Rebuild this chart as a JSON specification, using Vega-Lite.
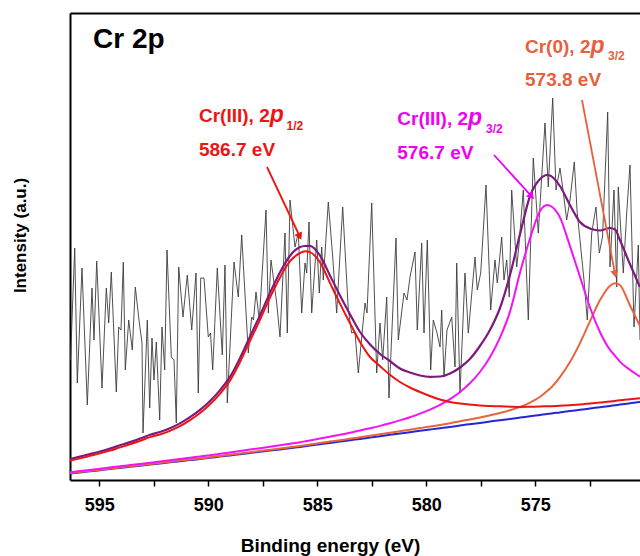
{
"$schema": "https://vega.github.io/schema/vega-lite/v6.json",
"width": 570, "height": 467,
"autosize": {"type": "none"},
"padding": {"left": 70, "top": 13, "right": 0, "bottom": 76},
"background": "white",
"config": {"view": {"stroke": null}, "font": "Liberation Sans",
  "axisY": {"title": "Intensity (a.u.)", "labels": false, "ticks": false, "grid": false, "domainColor": "black", "domainWidth": 2,
            "titleFontSize": 17, "titleFontWeight": "bold", "titleColor": "black", "titleX": -50, "titleY": 222, "titleAngle": 270, "titleBaseline": "middle", "titleAlign": "center"}},
"datasets": {
"spectrum": [
{"E":596.321,"V":120},{"E":596.128,"V":232},{"E":596.009,"V":97},{"E":595.794,"V":212},{"E":595.550,"V":75},{"E":595.335,"V":192},{"E":595.243,"V":140},{"E":595.119,"V":219},{"E":594.876,"V":92},{"E":594.679,"V":192},{"E":594.569,"V":157},{"E":594.449,"V":208},{"E":594.220,"V":88},{"E":594.110,"V":153},{"E":594.004,"V":150},{"E":593.899,"V":218},{"E":593.807,"V":110},{"E":593.651,"V":160},{"E":593.486,"V":130},{"E":593.348,"V":193},{"E":593.179,"V":160},{"E":593.041,"V":137},{"E":592.995,"V":47},{"E":592.798,"V":160},{"E":592.688,"V":72},{"E":592.583,"V":142},{"E":592.491,"V":100},{"E":592.385,"V":138},{"E":592.229,"V":60},{"E":592.124,"V":153},{"E":592.000,"V":110},{"E":591.894,"V":230},{"E":591.697,"V":123},{"E":591.573,"V":120},{"E":591.468,"V":57},{"E":591.358,"V":213},{"E":591.161,"V":163},{"E":590.963,"V":205},{"E":590.761,"V":150},{"E":590.564,"V":207},{"E":590.459,"V":87},{"E":590.348,"V":202},{"E":590.197,"V":202},{"E":590.000,"V":143},{"E":589.899,"V":147},{"E":589.798,"V":110},{"E":589.587,"V":212},{"E":589.358,"V":125},{"E":589.234,"V":215},{"E":589.128,"V":77},{"E":588.821,"V":218},{"E":588.624,"V":183},{"E":588.468,"V":245},{"E":588.165,"V":127},{"E":588.009,"V":163},{"E":587.927,"V":160},{"E":587.812,"V":188},{"E":587.660,"V":160},{"E":587.353,"V":270},{"E":587.247,"V":167},{"E":587.124,"V":220},{"E":586.862,"V":177},{"E":586.711,"V":143},{"E":586.482,"V":247},{"E":586.376,"V":147},{"E":586.252,"V":280},{"E":586.023,"V":233},{"E":585.871,"V":247},{"E":585.715,"V":167},{"E":585.564,"V":217},{"E":585.486,"V":207},{"E":585.381,"V":258},{"E":585.257,"V":167},{"E":585.027,"V":240},{"E":584.908,"V":187},{"E":584.798,"V":233},{"E":584.725,"V":200},{"E":584.495,"V":278},{"E":584.300,"V":225},{"E":584.110,"V":167},{"E":583.835,"V":273},{"E":583.578,"V":170},{"E":583.422,"V":147},{"E":583.271,"V":148},{"E":583.119,"V":107},{"E":582.812,"V":177},{"E":582.720,"V":167},{"E":582.504,"V":277},{"E":582.275,"V":107},{"E":582.124,"V":157},{"E":582.000,"V":120},{"E":581.816,"V":183},{"E":581.711,"V":82},{"E":581.390,"V":242},{"E":581.284,"V":140},{"E":581.023,"V":187},{"E":580.885,"V":180},{"E":580.748,"V":203},{"E":580.518,"V":228},{"E":580.413,"V":150},{"E":580.211,"V":237},{"E":580.105,"V":147},{"E":579.954,"V":240},{"E":579.798,"V":110},{"E":579.679,"V":160},{"E":579.509,"V":147},{"E":579.371,"V":133},{"E":579.293,"V":170},{"E":579.188,"V":103},{"E":579.050,"V":150},{"E":578.834,"V":163},{"E":578.683,"V":113},{"E":578.605,"V":217},{"E":578.454,"V":87},{"E":578.225,"V":207},{"E":578.073,"V":147},{"E":577.766,"V":223},{"E":577.660,"V":190},{"E":577.504,"V":207},{"E":577.261,"V":295},{"E":577.046,"V":170},{"E":576.849,"V":220},{"E":576.743,"V":197},{"E":576.541,"V":243},{"E":576.436,"V":200},{"E":576.312,"V":220},{"E":576.193,"V":183},{"E":576.083,"V":290},{"E":575.853,"V":213},{"E":575.748,"V":235},{"E":575.550,"V":290},{"E":575.321,"V":160},{"E":575.092,"V":322},{"E":574.862,"V":247},{"E":574.555,"V":357},{"E":574.404,"V":293},{"E":574.202,"V":382},{"E":574.050,"V":290},{"E":573.867,"V":312},{"E":573.729,"V":290},{"E":573.560,"V":260},{"E":573.408,"V":280},{"E":573.211,"V":318},{"E":573.080,"V":268},{"E":572.949,"V":240},{"E":572.766,"V":200},{"E":572.615,"V":160},{"E":572.413,"V":247},{"E":572.216,"V":273},{"E":572.064,"V":227},{"E":571.917,"V":243},{"E":571.679,"V":368},{"E":571.573,"V":213},{"E":571.390,"V":290},{"E":571.266,"V":193},{"E":571.193,"V":293},{"E":570.963,"V":207},{"E":570.807,"V":267},{"E":570.656,"V":315},{"E":570.472,"V":153},{"E":570.275,"V":235},{"E":570.197,"V":140}
],
"fit": [
{"E":596.34,"bg":6.5,"r":19.3,"m":7.8,"o":6.9,"env":21.0},
{"E":595.89,"bg":7.6,"r":21.6,"m":9.0,"o":8.0,"env":23.4},
{"E":595.43,"bg":8.7,"r":24.1,"m":10.1,"o":9.1,"env":25.9},
{"E":594.97,"bg":9.8,"r":26.6,"m":11.3,"o":10.2,"env":28.5},
{"E":594.51,"bg":11.0,"r":29.4,"m":12.6,"o":11.4,"env":31.4},
{"E":594.05,"bg":12.1,"r":32.6,"m":13.7,"o":12.5,"env":34.7},
{"E":593.59,"bg":13.2,"r":35.7,"m":14.9,"o":13.7,"env":37.9},
{"E":593.13,"bg":14.3,"r":39.1,"m":16.1,"o":14.8,"env":41.4},
{"E":592.67,"bg":15.4,"r":42.9,"m":17.3,"o":15.9,"env":45.3},
{"E":592.22,"bg":16.5,"r":45.5,"m":18.5,"o":17.0,"env":48.0},
{"E":591.76,"bg":17.7,"r":49.2,"m":19.8,"o":18.2,"env":51.8},
{"E":591.30,"bg":18.8,"r":53.8,"m":21.0,"o":19.4,"env":56.6},
{"E":590.84,"bg":19.9,"r":59.9,"m":22.2,"o":20.5,"env":62.8},
{"E":590.38,"bg":21.0,"r":67.0,"m":23.5,"o":21.6,"env":70.1},
{"E":589.92,"bg":22.2,"r":75.7,"m":24.8,"o":22.8,"env":79.0},
{"E":589.46,"bg":23.4,"r":86.4,"m":26.2,"o":24.1,"env":89.9},
{"E":589.00,"bg":24.6,"r":99.6,"m":27.6,"o":25.3,"env":103.3},
{"E":588.55,"bg":25.8,"r":117.8,"m":29.0,"o":26.6,"env":121.7},
{"E":588.09,"bg":27.0,"r":139.0,"m":30.4,"o":27.8,"env":143.2},
{"E":587.63,"bg":28.2,"r":160.2,"m":31.8,"o":29.0,"env":164.6},
{"E":587.17,"bg":29.4,"r":182.4,"m":33.3,"o":30.3,"env":187.1},
{"E":586.71,"bg":30.6,"r":202.6,"m":34.8,"o":31.5,"env":207.7},
{"E":586.25,"bg":31.8,"r":218.8,"m":36.3,"o":32.8,"env":224.3},
{"E":585.79,"bg":33.0,"r":227.0,"m":37.8,"o":34.1,"env":232.9},
{"E":585.56,"bg":33.7,"r":228.7,"m":38.7,"o":34.8,"env":234.0},
{"E":585.34,"bg":34.4,"r":227.9,"m":39.6,"o":35.5,"env":234.2},
{"E":584.88,"bg":35.7,"r":217.7,"m":41.4,"o":36.9,"env":224.6},
{"E":584.42,"bg":37.1,"r":197.1,"m":43.3,"o":38.4,"env":204.6},
{"E":583.96,"bg":38.4,"r":176.4,"m":45.2,"o":39.8,"env":184.6},
{"E":583.50,"bg":39.8,"r":156.8,"m":47.3,"o":41.2,"env":165.8},
{"E":583.04,"bg":41.1,"r":138.1,"m":49.4,"o":42.7,"env":148.0},
{"E":582.58,"bg":42.5,"r":123.0,"m":51.7,"o":44.2,"env":135.5},
{"E":582.12,"bg":43.8,"r":113.8,"m":54.1,"o":45.7,"env":126.0},
{"E":581.67,"bg":45.2,"r":105.2,"m":56.7,"o":47.2,"env":119.0},
{"E":581.21,"bg":46.5,"r":98.0,"m":59.6,"o":48.7,"env":111.5},
{"E":580.75,"bg":47.8,"r":92.5,"m":62.7,"o":50.3,"env":107.5},
{"E":580.29,"bg":49.2,"r":88.0,"m":66.4,"o":51.9,"env":104.5},
{"E":579.83,"bg":50.5,"r":84.0,"m":70.4,"o":53.5,"env":103.2},
{"E":579.37,"bg":51.8,"r":80.5,"m":75.2,"o":55.1,"env":103.5},
{"E":578.91,"bg":53.1,"r":78.0,"m":80.9,"o":56.8,"env":106.5},
{"E":578.45,"bg":54.5,"r":76.5,"m":88.0,"o":58.7,"env":112.5},
{"E":578.00,"bg":55.8,"r":75.5,"m":96.7,"o":60.6,"env":121.0},
{"E":577.54,"bg":57.1,"r":74.5,"m":108.0,"o":62.5,"env":134.0},
{"E":577.08,"bg":58.4,"r":74.0,"m":122.7,"o":64.7,"env":150.0},
{"E":576.62,"bg":59.8,"r":73.7,"m":142.4,"o":67.0,"env":172.0},
{"E":576.16,"bg":61.1,"r":73.3,"m":168.4,"o":69.8,"env":205.0},
{"E":575.70,"bg":62.4,"r":73.0,"m":207.4,"o":73.1,"env":246.0},
{"E":575.24,"bg":63.7,"r":73.2,"m":241.7,"o":77.4,"env":284.0},
{"E":574.78,"bg":65.0,"r":73.5,"m":269.0,"o":83.2,"env":301.0},
{"E":574.46,"bg":66.0,"r":73.7,"m":275.0,"o":89.0,"env":305.0},
{"E":574.33,"bg":66.3,"r":73.8,"m":274.3,"o":91.3,"env":304.5},
{"E":573.87,"bg":67.6,"r":74.2,"m":262.6,"o":102.8,"env":294.0},
{"E":573.41,"bg":68.9,"r":74.8,"m":233.9,"o":117.9,"env":275.0},
{"E":572.95,"bg":70.2,"r":75.5,"m":203.2,"o":136.9,"env":258.0},
{"E":572.49,"bg":71.5,"r":76.5,"m":172.5,"o":158.8,"env":251.5},
{"E":572.03,"bg":72.8,"r":77.5,"m":147.8,"o":179.9,"env":249.5},
{"E":571.57,"bg":74.1,"r":78.5,"m":130.1,"o":194.3,"env":252.0},
{"E":571.34,"bg":74.8,"r":79.1,"m":124.2,"o":196.8,"env":250.5},
{"E":571.12,"bg":75.4,"r":79.7,"m":118.4,"o":195.0,"env":240.0},
{"E":570.66,"bg":76.7,"r":80.7,"m":110.2,"o":174.7,"env":216.0},
{"E":570.20,"bg":78.0,"r":81.7,"m":103.3,"o":154.0,"env":193.0}
],
"labels": [
{"part":"title","peak":"Cr 2p","E":595.289,"V":432,"text":"Cr 2p"},
{"part":"main","peak":"Cr(III) 2p1/2","E":590.427,"V":358,"text":"Cr(III), 2"},
{"part":"p","peak":"Cr(III) 2p1/2","E":587.183,"V":358,"text":"p"},
{"part":"sub","peak":"Cr(III) 2p1/2","E":586.413,"V":350,"text":"1/2"},
{"part":"main","peak":"Cr(III) 2p1/2","E":590.427,"V":324,"text":"586.7 eV"},
{"part":"main","peak":"Cr(III) 2p3/2","E":581.330,"V":355,"text":"Cr(III), 2"},
{"part":"p","peak":"Cr(III) 2p3/2","E":578.087,"V":355,"text":"p"},
{"part":"sub","peak":"Cr(III) 2p3/2","E":577.261,"V":347,"text":"3/2"},
{"part":"main","peak":"Cr(III) 2p3/2","E":581.330,"V":321,"text":"576.7 eV"},
{"part":"main","peak":"Cr(0) 2p3/2","E":575.472,"V":427,"text":"Cr(0), 2"},
{"part":"p","peak":"Cr(0) 2p3/2","E":572.468,"V":427,"text":"p"},
{"part":"sub","peak":"Cr(0) 2p3/2","E":571.665,"V":420,"text":"3/2"},
{"part":"main","peak":"Cr(0) 2p3/2","E":575.472,"V":394,"text":"573.8 eV"}
],
"arrows": [
{"peak":"Cr(III) 2p1/2","E1":587.307,"V1":313,"Eh":585.803,"Vh":243.5},
{"peak":"Cr(III) 2p3/2","E1":576.894,"V1":325,"Eh":575.170,"Vh":283.7},
{"peak":"Cr(0) 2p3/2","E1":572.858,"V1":380,"Eh":571.339,"Vh":205.9}
]
},
"layer": [
{"data": {"name": "spectrum"},
 "mark": {"type": "line", "color": "#3c3c3c", "strokeWidth": 0.9, "clip": true},
 "encoding": {
  "x": {"field": "E", "type": "quantitative", "scale": {"domain": [570.197, 596.344], "reverse": true, "nice": false, "zero": false},
        "axis": {"orient": "bottom", "title": "Binding energy (eV)", "values": [595, 592.5, 590, 587.5, 585, 582.5, 580, 577.5, 575, 572.5],
                 "labelExpr": "datum.value % 5 === 0 ? format(datum.value, 'd') : ''",
                 "labelFontSize": 18, "labelFontWeight": "bold", "labelColor": "black", "labelPadding": 10, "labelFlush": false, "labelOverlap": false,
                 "tickSize": 6, "tickWidth": 1.5, "tickColor": "black", "domainColor": "black", "domainWidth": 2, "grid": false,
                 "titleFontSize": 19, "titleFontWeight": "bold", "titleColor": "black", "titleX": 260, "titleY": 71, "titleBaseline": "alphabetic", "titleAlign": "center"}},
  "y": {"field": "V", "type": "quantitative", "scale": {"domain": [0, 467], "nice": false, "zero": false}, "title": "Intensity (a.u.)"}
 }},
{"data": {"name": "fit"},
 "mark": {"type": "line", "color": "#2626d4", "strokeWidth": 2, "interpolate": "monotone", "clip": true},
 "encoding": {
  "x": {"field": "E", "type": "quantitative", "scale": {"domain": [570.197, 596.344], "reverse": true, "nice": false, "zero": false},
        "axis": {"orient": "top", "labels": false, "ticks": false, "title": null, "grid": false, "domainColor": "black", "domainWidth": 2}},
  "y": {"field": "bg", "type": "quantitative", "title": "Intensity (a.u.)"}
 }},
{"data": {"name": "fit"},
 "mark": {"type": "line", "color": "#e8643c", "strokeWidth": 2, "interpolate": "monotone", "clip": true},
 "encoding": {"x": {"field": "E", "type": "quantitative", "axis": null}, "y": {"field": "o", "type": "quantitative", "title": "Intensity (a.u.)"}}},
{"data": {"name": "fit"},
 "mark": {"type": "line", "color": "#f512f5", "strokeWidth": 2, "interpolate": "monotone", "clip": true},
 "encoding": {"x": {"field": "E", "type": "quantitative", "axis": null}, "y": {"field": "m", "type": "quantitative", "title": "Intensity (a.u.)"}}},
{"data": {"name": "fit"},
 "mark": {"type": "line", "color": "#7d1a7d", "strokeWidth": 2.2, "interpolate": "monotone", "clip": true},
 "encoding": {"x": {"field": "E", "type": "quantitative", "axis": null}, "y": {"field": "env", "type": "quantitative", "title": "Intensity (a.u.)"}}},
{"data": {"name": "fit"},
 "mark": {"type": "line", "color": "#ee1414", "strokeWidth": 2, "interpolate": "monotone", "clip": true},
 "encoding": {"x": {"field": "E", "type": "quantitative", "axis": null}, "y": {"field": "r", "type": "quantitative", "title": "Intensity (a.u.)"}}},
{"data": {"name": "arrows"},
 "mark": {"type": "rule", "strokeWidth": 1.8},
 "encoding": {
  "x": {"field": "E1", "type": "quantitative", "axis": null}, "y": {"field": "V1", "type": "quantitative", "title": "Intensity (a.u.)"},
  "x2": {"field": "Eh"}, "y2": {"field": "Vh"},
  "color": {"field": "peak", "type": "nominal", "legend": null, "scale": {"domain": ["Cr(III) 2p1/2", "Cr(III) 2p3/2", "Cr(0) 2p3/2"], "range": ["#ee1414", "#f000f0", "#e8603c"]}}
 }},
{"data": {"name": "arrows"}, "transform": [{"filter": "datum.peak === 'Cr(III) 2p1/2'"}],
 "mark": {"type": "point", "shape": "triangle-down", "filled": true, "size": 70, "angle": -25.6, "opacity": 1},
 "encoding": {"x": {"field": "Eh", "type": "quantitative", "axis": null}, "y": {"field": "Vh", "type": "quantitative", "title": "Intensity (a.u.)"},
  "color": {"field": "peak", "type": "nominal", "legend": null}}},
{"data": {"name": "arrows"}, "transform": [{"filter": "datum.peak === 'Cr(III) 2p3/2'"}],
 "mark": {"type": "point", "shape": "triangle-down", "filled": true, "size": 70, "angle": -42.3, "opacity": 1},
 "encoding": {"x": {"field": "Eh", "type": "quantitative", "axis": null}, "y": {"field": "Vh", "type": "quantitative", "title": "Intensity (a.u.)"},
  "color": {"field": "peak", "type": "nominal", "legend": null}}},
{"data": {"name": "arrows"}, "transform": [{"filter": "datum.peak === 'Cr(0) 2p3/2'"}],
 "mark": {"type": "point", "shape": "triangle-down", "filled": true, "size": 70, "angle": -10.8, "opacity": 1},
 "encoding": {"x": {"field": "Eh", "type": "quantitative", "axis": null}, "y": {"field": "Vh", "type": "quantitative", "title": "Intensity (a.u.)"},
  "color": {"field": "peak", "type": "nominal", "legend": null}}},
{"data": {"name": "labels"}, "transform": [{"filter": "datum.part === 'title'"}],
 "mark": {"type": "text", "align": "left", "baseline": "alphabetic", "fontSize": 28, "fontWeight": "bold", "color": "black"},
 "encoding": {"x": {"field": "E", "type": "quantitative", "axis": null}, "y": {"field": "V", "type": "quantitative", "title": "Intensity (a.u.)"}, "text": {"field": "text"}}},
{"data": {"name": "labels"}, "transform": [{"filter": "datum.part === 'main'"}],
 "mark": {"type": "text", "align": "left", "baseline": "alphabetic", "fontSize": 19, "fontWeight": "bold"},
 "encoding": {"x": {"field": "E", "type": "quantitative", "axis": null}, "y": {"field": "V", "type": "quantitative", "title": "Intensity (a.u.)"}, "text": {"field": "text"},
  "color": {"field": "peak", "type": "nominal", "legend": null}}},
{"data": {"name": "labels"}, "transform": [{"filter": "datum.part === 'p'"}],
 "mark": {"type": "text", "align": "left", "baseline": "alphabetic", "fontSize": 23, "fontWeight": "bold", "fontStyle": "italic"},
 "encoding": {"x": {"field": "E", "type": "quantitative", "axis": null}, "y": {"field": "V", "type": "quantitative", "title": "Intensity (a.u.)"}, "text": {"field": "text"},
  "color": {"field": "peak", "type": "nominal", "legend": null}}},
{"data": {"name": "labels"}, "transform": [{"filter": "datum.part === 'sub'"}],
 "mark": {"type": "text", "align": "left", "baseline": "alphabetic", "fontSize": 12, "fontWeight": "bold"},
 "encoding": {"x": {"field": "E", "type": "quantitative", "axis": null}, "y": {"field": "V", "type": "quantitative", "title": "Intensity (a.u.)"}, "text": {"field": "text"},
  "color": {"field": "peak", "type": "nominal", "legend": null}}}
]
}
